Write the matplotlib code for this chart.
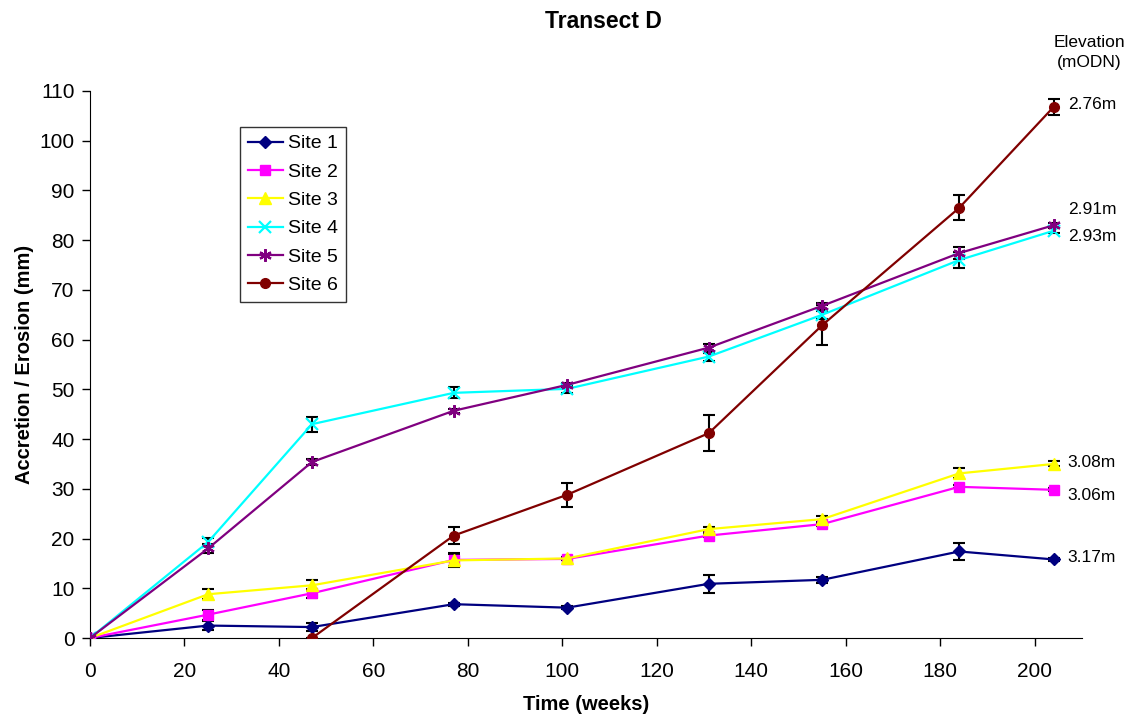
import matplotlib
matplotlib.use("Agg")
import matplotlib.pyplot as plt
import numpy as np

plt.rcParams['font.family'] = ['Liberation Sans', 'DejaVu Sans']

weeks = [0, 25, 47, 77, 101, 131, 155, 184, 204]
weeks6 = [47, 77, 101, 131, 155, 184, 204]

site1 = [0, 2.5, 2.2, 6.8, 6.1, 10.9, 11.7, 17.4, 15.8]
site2 = [0, 4.7, 9.0, 15.7, 15.9, 20.6, 22.9, 30.4, 29.8]
site3 = [0, 8.8, 10.6, 15.6, 16.0, 21.9, 23.9, 33.1, 35.0]
site4 = [0, 19.3, 43.0, 49.3, 50.1, 56.6, 65.0, 76.0, 81.9]
site5 = [0, 18.0, 35.4, 45.7, 50.9, 58.4, 66.8, 77.4, 83.0]
site6 = [0, 20.6, 28.8, 41.2, 62.9, 86.5, 106.8]

err1 = [0, 0.9, 0.8, 0.3, 0.3, 1.8, 0.6, 1.7, 0.3]
err2 = [0, 1.0, 0.9, 1.2, 0.3, 0.3, 0.3, 0.3, 0.3]
err3 = [0, 1.0, 1.1, 1.4, 0.3, 0.5, 0.6, 1.0, 0.5]
err4 = [0, 0.8, 1.5, 1.1, 0.8, 0.8, 0.8, 1.6, 0.5]
err5 = [0, 1.0, 0.6, 0.4, 0.4, 0.8, 0.6, 1.2, 0.5]
err6 = [0, 1.7, 2.4, 3.6, 4.0, 2.5, 1.6]

labels = ["Site 1", "Site 2", "Site 3", "Site 4", "Site 5", "Site 6"]
elev_labels = ["3.17m", "3.06m", "3.08m", "2.93m", "2.91m", "2.76m"]
elev_y = [16.1, 28.6, 35.2, 80.7, 86.1, 107.2]

fig = plt.figure(figsize=(11.26, 7.18), dpi=100)
ax = fig.add_axes([90/1126, 1-638/718, 992/1126, 547/718])

series = [
    (weeks, site1, err1, '#000080', 'D', 6),
    (weeks, site2, err2, '#FF00FF', 's', 7),
    (weeks, site3, err3, '#FFFF00', '^', 8),
    (weeks, site4, err4, '#00FFFF', 'x', 8),
    (weeks, site5, err5, '#800080', (6, 2, 0), 9),
    (weeks6, site6, err6, '#800000', 'o', 7),
]

for (x, y, e, c, m, ms), lab in zip(series, labels):
    ax.errorbar(x, y, yerr=e, fmt='none', ecolor='black', elinewidth=1.5,
                capsize=4, capthick=1.5, zorder=2)
    ax.plot(x, y, color=c, marker=m, markersize=ms, linewidth=1.6,
            markeredgewidth=1.6 if m in ('x', (6, 2, 0)) else 1,
            markeredgecolor=c, label=lab, zorder=3)

ax.set_xlim(0, 210)
ax.set_ylim(0, 110)
ax.set_xticks(np.arange(0, 201, 20))
ax.set_yticks(np.arange(0, 111, 10))
ax.spines['top'].set_visible(False)
ax.spines['right'].set_visible(False)
ax.tick_params(axis='both', direction='out', length=6, labelsize=15, width=1)
ax.tick_params(axis='x', pad=11)
ax.tick_params(axis='y', pad=5)

ax.set_xlabel("Time (weeks)", fontsize=14.5, fontweight='bold', labelpad=10)
ax.set_ylabel("Accretion / Erosion (mm)", fontsize=14.5, fontweight='bold', labelpad=4)

fig.text(603/1126, 1-21/718, "Transect D", ha='center', va='center',
         fontsize=16.5, fontweight='bold')

leg = ax.legend(loc='upper left', bbox_to_anchor=(0.151, 0.934), borderaxespad=0,
                fontsize=14, frameon=True, fancybox=False, handlelength=1.8,
                labelspacing=0.55, borderpad=0.4, handletextpad=0.3)
leg.get_frame().set_edgecolor('black')
leg.get_frame().set_linewidth(1)

for t, yv in zip(elev_labels, elev_y):
    ax.text(207.0, yv, t, ha='left', va='center', fontsize=12.5, clip_on=False)

ax.text(211.5, 117.7, "Elevation\n(mODN)", ha='center', va='center',
        fontsize=12.5, clip_on=False, linespacing=1.45)

fig.savefig("out.png", dpi=100)
